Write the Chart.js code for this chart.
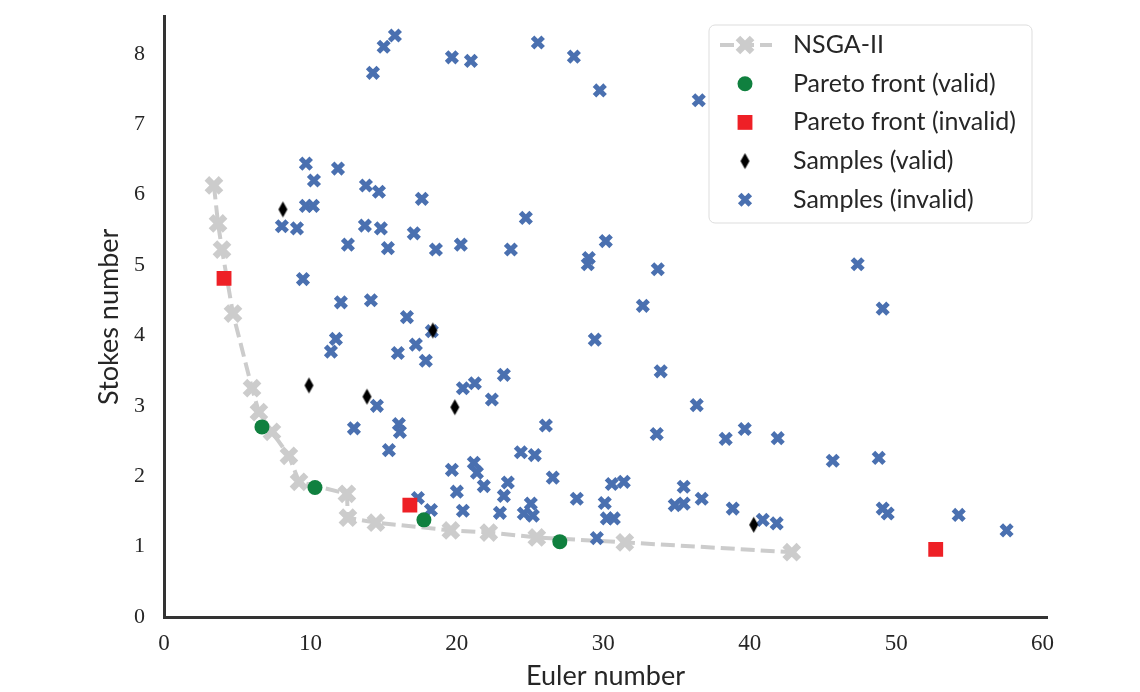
<!DOCTYPE html>
<html>
<head>
<meta charset="utf-8">
<script src="https://cdn.jsdelivr.net/npm/chart.js"></script>
<style>
html,body{margin:0;padding:0;background:#fff;}
#wrap{width:1140px;height:692px;position:relative;}
</style>
</head>
<body>
<div id="wrap"><canvas id="myChart"></canvas></div>
<script>
// NSGA-II front
var nsgaX=[3.41,3.69,3.96,4.71,6.01,6.48,7.37,8.53,9.22,12.49,12.56,14.47,19.59,22.18,25.46,31.47,42.87];
var nsgaY=[6.13,5.59,5.22,4.31,3.25,2.91,2.63,2.29,1.92,1.75,1.41,1.34,1.23,1.20,1.13,1.06,0.92];
// pareto front
var paretoValidX=[6.69,10.31,17.75,27.03];
var paretoValidY=[2.70,1.84,1.38,1.07];
var paretoInvalidX=[4.10,16.79,52.70];
var paretoInvalidY=[4.81,1.59,0.96];
// samples
var validX=[8.12,18.36,9.90,13.86,19.86,40.27];
var validY=[5.79,4.07,3.29,3.13,2.98,1.31];
var invalidX=[15.77,15.00,14.27,19.66,20.96,25.53,27.99,29.76,36.52,9.69,10.24,11.88,13.79,14.68,17.61,9.69,10.17,8.05,9.08,13.72,
14.81,17.06,12.56,15.29,18.57,20.27,24.71,23.69,30.17,29.01,28.94,33.72,47.37,9.49,12.08,14.13,16.59,32.70,49.08,11.74,
11.40,15.97,17.20,17.88,18.29,29.42,14.54,20.41,21.23,23.21,22.39,33.92,36.38,12.97,16.04,16.11,15.36,26.08,33.65,38.36,
39.66,41.91,24.37,25.32,45.67,48.81,19.66,21.16,21.37,21.84,23.48,23.21,26.55,20.00,20.41,17.34,18.23,22.94,25.05,24.57,
25.19,28.19,30.10,30.58,31.40,30.24,30.72,29.56,35.49,34.88,35.49,36.72,38.84,40.89,41.84,49.08,49.42,54.27,57.54];
var invalidY=[8.26,8.10,7.73,7.95,7.90,8.16,7.96,7.48,7.34,6.44,6.20,6.37,6.13,6.04,5.94,5.84,5.84,5.55,5.52,5.56,
5.52,5.45,5.29,5.24,5.22,5.29,5.67,5.22,5.34,5.10,5.01,4.94,5.01,4.80,4.47,4.50,4.26,4.42,4.38,3.95,
3.77,3.75,3.87,3.64,4.06,3.94,3.00,3.25,3.32,3.44,3.09,3.49,3.01,2.68,2.74,2.63,2.37,2.72,2.60,2.53,
2.67,2.54,2.34,2.30,2.22,2.26,2.09,2.19,2.05,1.86,1.91,1.72,1.98,1.78,1.51,1.69,1.52,1.48,1.61,1.47,
1.44,1.68,1.62,1.89,1.92,1.40,1.40,1.12,1.85,1.59,1.61,1.68,1.54,1.38,1.33,1.54,1.47,1.45,1.23];
var xTicks=[0,10,20,30,40,50,60];
var yTicks=[0,1,2,3,4,5,6,7,8];
var labels=['NSGA-II','Pareto front (valid)','Pareto front (invalid)','Samples (valid)','Samples (invalid)'];

function pts(xs,ys){
	var out=[];
	for(var i=0;i<xs.length;i++){ out.push({x:xs[i],y:ys[i]}); }
	return out;
}

// thin diamond marker like matplotlib 'd'
var diamond=document.createElement('canvas');
diamond.width=11; diamond.height=18;
var dc=diamond.getContext('2d');
dc.fillStyle='#000';
dc.beginPath();
dc.moveTo(5.5,1);dc.lineTo(10,9);dc.lineTo(5.5,17);dc.lineTo(1,9);
dc.closePath();dc.fill();

var textCol='#262626';
var sansFont='Lato';

var styles=[
	{pointStyle:'crossRot',radius:10,borderWidth:6.5,borderColor:'#cccccc',backgroundColor:'#cccccc'},
	{pointStyle:'circle',radius:7.5,borderWidth:0,borderColor:'#10803f',backgroundColor:'#10803f'},
	{pointStyle:'rect',radius:10.5,borderWidth:0,borderColor:'#ee2026',backgroundColor:'#ee2026'},
	{pointStyle:diamond,radius:8,borderWidth:0,borderColor:'#000',backgroundColor:'#000'},
	{pointStyle:'crossRot',radius:7.5,borderWidth:5,borderColor:'#4a70b0',backgroundColor:'#4a70b0'}
];

var legendBox={
	id:'legendBox',
	afterDatasetsDraw:function(chart){
		var ctx=chart.ctx;
		ctx.save();
		var x=709,y=25,w=323,h=198,r=6;
		ctx.beginPath();
		ctx.moveTo(x+r,y);ctx.lineTo(x+w-r,y);ctx.arcTo(x+w,y,x+w,y+r,r);
		ctx.lineTo(x+w,y+h-r);ctx.arcTo(x+w,y+h,x+w-r,y+h,r);
		ctx.lineTo(x+r,y+h);ctx.arcTo(x,y+h,x,y+h-r,r);
		ctx.lineTo(x,y+r);ctx.arcTo(x,y,x+r,y,r);
		ctx.closePath();
		ctx.fillStyle='rgba(255,255,255,0.85)';
		ctx.fill();
		ctx.strokeStyle='#dddddd';
		ctx.lineWidth=1;
		ctx.stroke();
		for(var i=0;i<labels.length;i++){
			var yc=45+i*38.7;
			var s=styles[i];
			if(i==0){
				ctx.save();
				ctx.strokeStyle='#cccccc';
				ctx.lineWidth=4;
				ctx.setLineDash([14,6]);
				ctx.beginPath();ctx.moveTo(720,yc);ctx.lineTo(772,yc);ctx.stroke();
				ctx.restore();
			}
			ctx.save();
			ctx.fillStyle=s.backgroundColor;
			ctx.strokeStyle=s.borderColor;
			ctx.lineWidth=s.borderWidth;
			Chart.helpers.drawPoint(ctx,{pointStyle:s.pointStyle,radius:s.radius,borderWidth:s.borderWidth,rotation:0},745,yc);
			ctx.restore();
			ctx.fillStyle=textCol;
			ctx.font='25px '+sansFont;
			ctx.textBaseline='middle';
			ctx.textAlign='left';
			ctx.fillText(labels[i],793,yc);
		}
		ctx.restore();
	}
};

function mk(i,data,order){
	var s=styles[i];
	return {
		label:labels[i],
		data:data,
		order:order,
		showLine:false,
		pointStyle:s.pointStyle,
		pointRadius:s.radius,
		pointBorderWidth:s.borderWidth,
		pointBorderColor:s.borderColor,
		pointBackgroundColor:s.backgroundColor,
		borderColor:s.borderColor,
		backgroundColor:s.backgroundColor
	};
}

var nsgaSet=mk(0,pts(nsgaX,nsgaY),5);
nsgaSet.showLine=true;
nsgaSet.borderWidth=4;
nsgaSet.borderDash=[14,6];
nsgaSet.tension=0;

var ctx=document.getElementById('myChart').getContext('2d');
var chart=new Chart(ctx,{
	type:'scatter',
	data:{
		datasets:[
			nsgaSet,
			mk(1,pts(paretoValidX,paretoValidY),1),
			mk(2,pts(paretoInvalidX,paretoInvalidY),2),
			mk(3,pts(validX,validY),3),
			mk(4,pts(invalidX,invalidY),4)
		]
	},
	options:{
		responsive:true,
		maintainAspectRatio:false,
		animation:false,
		events:[],
		layout:{padding:{left:0,top:11,right:93,bottom:0}},
		plugins:{legend:{display:false},tooltip:{enabled:false}},
		scales:{
			x:{
				type:'linear',min:0,max:60.3,
				afterBuildTicks:function(s){ s.ticks=xTicks.map(function(v){return {value:v};}); },
				afterFit:function(s){ s.height=75; s.paddingLeft=0; s.paddingRight=0; },
				grid:{display:false,drawTicks:false},
				border:{display:true,color:'#333333',width:3},
				ticks:{padding:13,color:textCol,font:{family:'Liberation Serif',size:23}},
				title:{display:true,text:'Euler number',color:textCol,font:{family:sansFont,size:27},padding:{top:0,bottom:0}}
			},
			y:{
				type:'linear',min:0,max:8.53,
				afterBuildTicks:function(s){ s.ticks=yTicks.map(function(v){return {value:v};}); },
				afterFit:function(s){ s.width=164; s.paddingTop=0; s.paddingBottom=0; },
				grid:{display:false,drawTicks:false},
				border:{display:true,color:'#333333',width:3},
				ticks:{padding:19,color:textCol,font:{family:'Liberation Serif',size:22}},
				title:{display:true,text:'Stokes number',color:textCol,font:{family:sansFont,size:27},padding:{top:93,bottom:0}}
			}
		}
	},
	plugins:[legendBox]
});
</script>
</body>
</html>
